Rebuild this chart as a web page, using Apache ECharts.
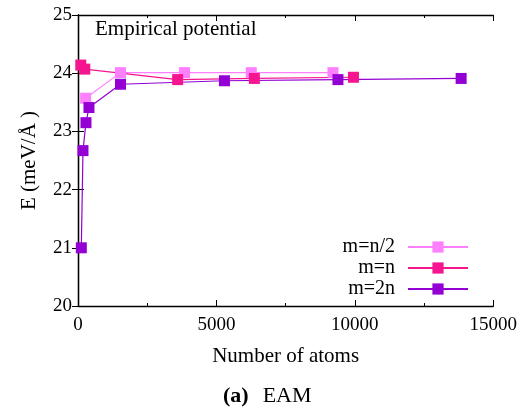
<!DOCTYPE html>
<html>
<head>
<meta charset="utf-8">
<script src="https://cdn.jsdelivr.net/npm/echarts@6/dist/echarts.min.js"></script>
<style>
  html, body { margin: 0; padding: 0; background: #fff; }
  #chart { width: 520px; height: 408px; }
</style>
</head>
<body>
<div id="chart"></div>
<script>
// values
const halfAtoms = [275, 1535, 3850, 6260, 9210];
const halfEnergy = [23.57, 24.01, 24.01, 24.01, 24.01];

const nAtoms = [100, 245, 3600, 6370, 9950];
const nEnergy = [24.14, 24.07, 23.89, 23.91, 23.93];

const twoAtoms = [120, 180, 288, 396, 1535, 5290, 9390, 13840];
const twoEnergy = [21.0, 22.67, 23.15, 23.41, 23.81, 23.87, 23.89, 23.91];

const seriesNames = ['m=n/2', 'm=n', 'm=2n'];
const seriesColors = ['#ff80ff', '#f5158f', '#9400d3'];

const FONT = 'Liberation Serif';

function pairs(xs, ys) {
  return xs.map((x, i) => [x, ys[i]]);
}

function lineSeries(idx, xs, ys) {
  return {
    name: seriesNames[idx],
    type: 'line',
    data: pairs(xs, ys),
    symbol: 'rect',
    symbolSize: 11,
    showSymbol: true,
    color: seriesColors[idx],
    lineStyle: { width: 1.2, color: seriesColors[idx] },
    itemStyle: { color: seriesColors[idx] },
    animation: false,
  };
}

const axisBase = {
  axisLine: { show: true, lineStyle: { color: '#000', width: 1.3 } },
  axisTick: { show: true, inside: true, length: 6, lineStyle: { color: '#000' } },
  splitLine: { show: false },
};

// tick labels through rich text so the serif face sticks
const tickRich = { t: { fontFamily: FONT, fontSize: 19, color: '#000' } };
const tickFmt = (v) => '{t|' + v + '}';

const chart = echarts.init(document.getElementById('chart'), null, { renderer: 'canvas' });

chart.setOption({
  backgroundColor: '#fff',
  textStyle: { fontFamily: FONT, color: '#000' },
  grid: { left: 78, right: 26, top: 15, bottom: 102 },
  title: {
    text: '{b|(a)}{n|EAM}',
    left: 218,
    top: 380,
    textStyle: {
      fontWeight: 'normal',
      rich: {
        b: { fontFamily: FONT, fontSize: 22, fontWeight: 'bold', color: '#000', padding: [0, 14, 0, 0] },
        n: { fontFamily: FONT, fontSize: 22, fontWeight: 'normal', color: '#000' },
      },
    },
  },
  graphic: [
    {
      type: 'text',
      left: 95,
      top: 19,
      style: { text: 'Empirical potential', font: '21px "Liberation Serif"', fill: '#000' },
    },
  ],
  legend: {
    orient: 'vertical',
    align: 'right',
    right: 46,
    top: 232,
    itemWidth: 60,
    itemHeight: 14,
    itemGap: 1,
    data: seriesNames,
    textStyle: { fontFamily: FONT, fontSize: 20, color: '#000', padding: [0, 8, 0, 0] },
  },
  xAxis: [
    {
      ...axisBase,
      type: 'value',
      min: 0,
      max: 15000,
      interval: 5000,
      name: 'Number of atoms',
      nameLocation: 'middle',
      nameGap: 40,
      nameTextStyle: { fontFamily: FONT, fontSize: 21, color: '#000' },
      minorTick: { show: true, splitNumber: 2, length: 3, lineStyle: { color: '#000' } },
      axisLabel: { margin: 10, formatter: tickFmt, rich: tickRich },
    },
    {
      ...axisBase,
      type: 'value',
      position: 'top',
      min: 0,
      max: 15000,
      interval: 5000,
      minorTick: { show: true, splitNumber: 2, length: 3, lineStyle: { color: '#000' } },
      axisLabel: { show: false },
    },
  ],
  yAxis: [
    {
      ...axisBase,
      type: 'value',
      min: 20,
      max: 25,
      interval: 1,
      name: 'E (meV/Å )',
      nameLocation: 'middle',
      nameGap: 38,
      nameTextStyle: { fontFamily: FONT, fontSize: 21, color: '#000' },
      axisLabel: { margin: 6, formatter: tickFmt, rich: tickRich },
    },
    {
      ...axisBase,
      type: 'value',
      position: 'right',
      min: 20,
      max: 25,
      interval: 1,
      axisLabel: { show: false },
    },
  ],
  series: [
    lineSeries(0, halfAtoms, halfEnergy),
    lineSeries(1, nAtoms, nEnergy),
    lineSeries(2, twoAtoms, twoEnergy),
  ],
});
</script>
</body>
</html>
